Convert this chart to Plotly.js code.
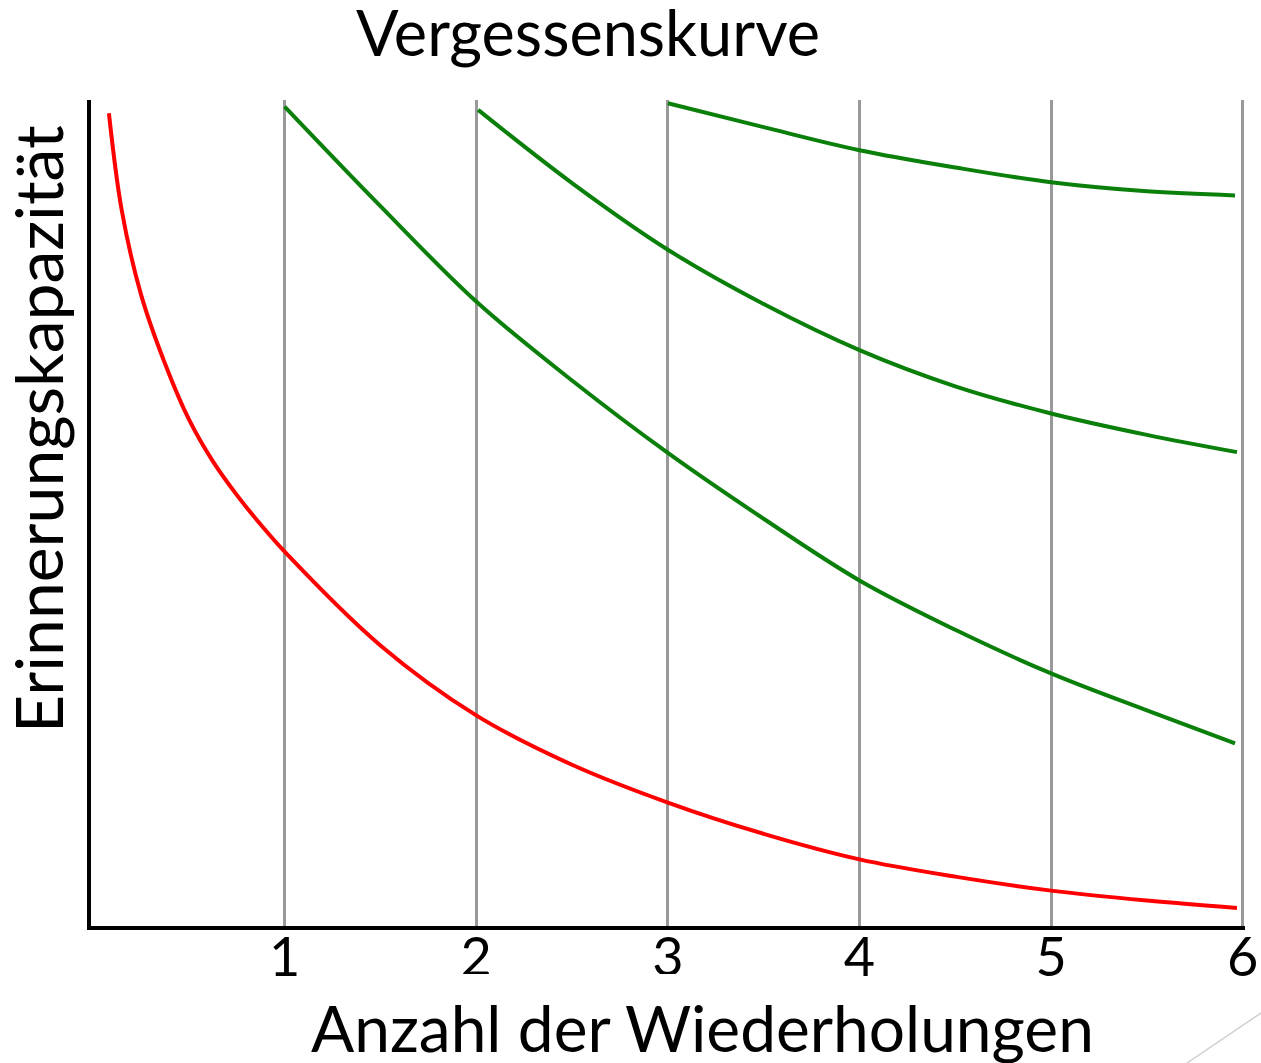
<!DOCTYPE html>
<html>
<head>
<meta charset="utf-8">
<script src="https://cdn.plot.ly/plotly-3.0.1.min.js"></script>
<style>html,body{margin:0;padding:0;background:#fff;}#chart{width:1261px;height:1063px;}</style>
</head>
<body>
<div id="chart"></div>
<script>
// Data
const tickValues = [1, 2, 3, 4, 5, 6];
const tickLabels = ["1", "2", "3", "4", "5", "6"];

// Original forgetting curve (red)
const redX = [0.083, 0.15, 0.25, 0.375, 0.5, 0.625, 0.75, 0.875, 1, 1.5, 2, 2.5, 3, 3.5, 4, 4.5, 5, 5.5, 5.97];
const redY = [98.8, 87.0, 76.8, 68.4, 61.6, 56.5, 52.4, 48.8, 45.5, 34.1, 25.6, 19.6, 15.0, 11.2, 8.1, 6.0, 4.3, 3.1, 2.2];

// After 1st repetition
const green1X = [1, 1.5, 2, 2.5, 3, 3.5, 4, 4.5, 5, 5.5, 5.96];
const green1Y = [99.6, 87.5, 75.9, 66.3, 57.5, 49.5, 42.0, 36.0, 30.7, 26.2, 22.2];

// After 2nd repetition
const green2X = [2.01, 2.5, 3, 3.5, 4, 4.5, 5, 5.5, 5.97];
const green2Y = [99.2, 90.3, 82.2, 75.6, 70.0, 65.6, 62.3, 59.7, 57.6];

// After 3rd repetition
const green3X = [3, 3.5, 4, 4.5, 5, 5.5, 5.96];
const green3Y = [100.0, 97.1, 94.3, 92.2, 90.4, 89.3, 88.8];

const titleText = "Vergessenskurve";
const xTitleText = "Anzahl der Wiederholungen";
const yTitleText = "Erinnerungskapazität";

const RED = "#ff0000";
const GREEN = "#0a7f0a";
const FONT = "Lato, 'Open Sans', sans-serif";

function curve(x, y, color) {
  return {
    x: x, y: y, type: "scatter", mode: "lines",
    line: {color: color, width: 4, shape: "spline", smoothing: 1},
    hoverinfo: "skip", showlegend: false
  };
}

const traces = [
  curve(redX, redY, RED),
  curve(green1X, green1Y, GREEN),
  curve(green2X, green2Y, GREEN),
  curve(green3X, green3Y, GREEN)
];

const layout = {
  width: 1261, height: 1063,
  margin: {l: 91, r: 16, t: 100, b: 137},
  paper_bgcolor: "#ffffff", plot_bgcolor: "#ffffff",
  showlegend: false,
  font: {family: FONT, color: "#000"},
  title: {
    text: titleText,
    font: {family: FONT, size: 63, color: "#000"},
    x: 0.4663, xref: "container", xanchor: "center",
    y: 0.9887, yref: "container", yanchor: "top"
  },
  xaxis: {
    range: [-0.0104, 6.012],
    tickmode: "array", tickvals: tickValues, ticktext: tickLabels,
    showgrid: true, gridcolor: "#999999", gridwidth: 3,
    zeroline: false, ticks: "", ticklen: 0,
    showline: true, linecolor: "#000", linewidth: 4,
    tickfont: {family: FONT, size: 54, color: "#000"},
    ticklabelstandoff: -19,
    fixedrange: true
  },
  yaxis: {
    range: [0, 100.4],
    showgrid: false, zeroline: false, ticks: "", showticklabels: false,
    showline: true, linecolor: "#000", linewidth: 4,
    fixedrange: true
  },
  annotations: [
    {text: xTitleText, xref: "paper", yref: "paper",
     x: (702 - 91) / 1154, y: (926 - 1027) / 826, xanchor: "center", yanchor: "middle",
     showarrow: false, font: {family: FONT, size: 64, color: "#000"}},
    {text: yTitleText, xref: "paper", yref: "paper", textangle: -90,
     x: (37 - 91) / 1154, y: (926 - 429) / 826, xanchor: "center", yanchor: "middle",
     showarrow: false, font: {family: FONT, size: 66, color: "#000"}}
  ],
  shapes: [
    {type: "rect", xref: "paper", yref: "paper", layer: "above",
     x0: (310 - 91) / 1154, x1: (800 - 91) / 1154, y0: (926 - 974) / 826, y1: (926 - 1063) / 826,
     fillcolor: "#ffffff", line: {width: 0}},
    {type: "line", xref: "paper", yref: "paper", layer: "above",
     x0: 1.0139, y0: -0.1053, x1: 0.9497, y1: -0.1659,
     line: {color: "#d0d0d0", width: 1.5}}
  ]
};

Plotly.newPlot("chart", traces, layout, {displayModeBar: false, staticPlot: true});
</script>
</body>
</html>
